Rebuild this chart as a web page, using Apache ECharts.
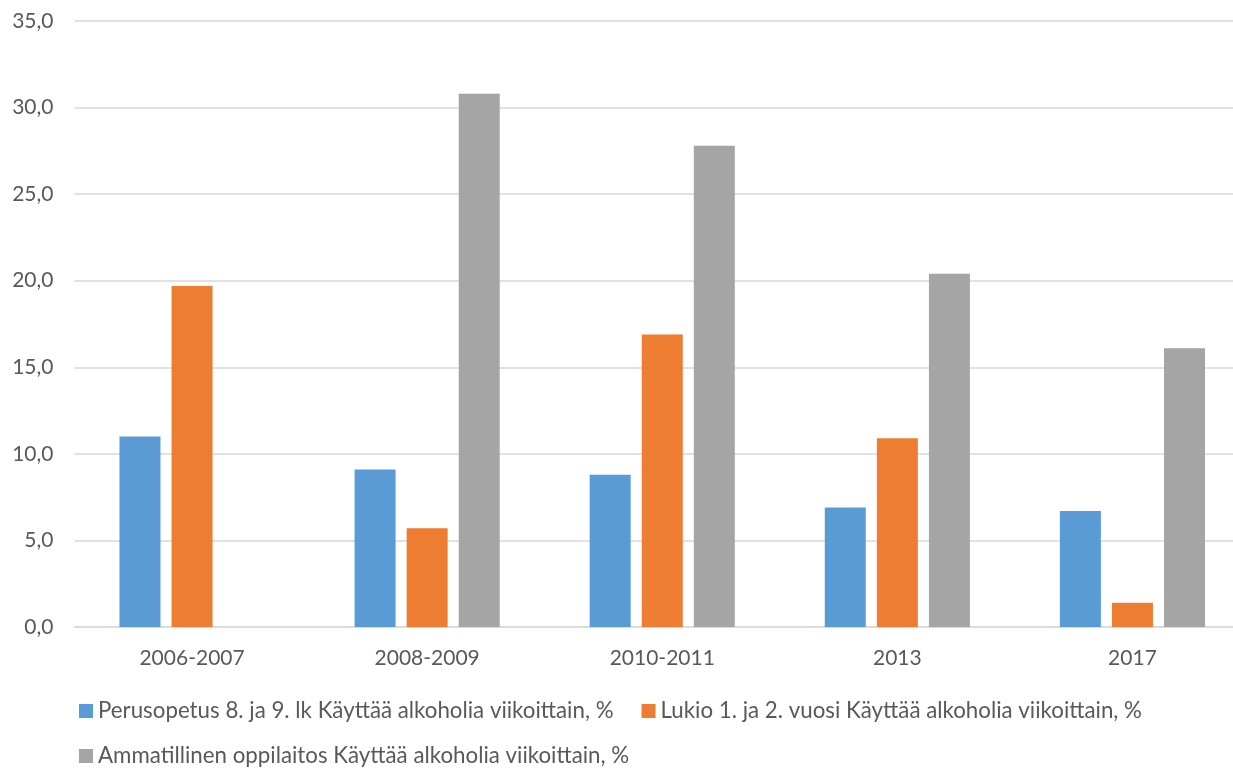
<!DOCTYPE html>
<html><head><meta charset="utf-8">
<script src="https://cdn.jsdelivr.net/npm/echarts@6/dist/echarts.min.js"></script>
<style>html,body{margin:0;padding:0;background:#fff;overflow:hidden;width:1233px;height:769px}#c{width:1250px;height:769px}</style>
</head><body><div id="c"></div>
<script>
const categories = ['2006-2007', '2008-2009', '2010-2011', '2013', '2017'];
const seriesNames = [
  'Perusopetus 8. ja 9. lk Käyttää alkoholia viikoittain, %',
  'Lukio 1. ja 2. vuosi Käyttää alkoholia viikoittain, %',
  'Ammatillinen oppilaitos Käyttää alkoholia viikoittain, %'
];
const perusopetus = [11.0, 9.1, 8.8, 6.9, 6.7];
const lukio = [19.7, 5.7, 16.9, 10.9, 1.4];
const ammatillinen = [null, 30.8, 27.8, 20.4, 16.1];
const colors = ['#5B9BD5', '#ED7D31', '#A5A5A5'];
const values = [perusopetus, lukio, ammatillinen];

const font = 'Lato, "Open Sans", sans-serif';
const chart = echarts.init(document.getElementById('c'));
const legendText = { fontSize: 22.3, lineHeight: 22, color: '#595959', fontFamily: font };
chart.setOption({
  animation: false,
  color: colors,
  textStyle: { fontFamily: font },
  grid: { left: 74.5, right: 0, top: 21, bottom: 142, containLabel: false },
  legend: [
    { data: [seriesNames[0], seriesNames[1]], left: 79, top: 700, orient: 'horizontal',
      icon: 'rect', itemWidth: 14, itemHeight: 14, itemGap: 28, padding: 0,
      textStyle: legendText },
    { data: [seriesNames[2]], left: 79, top: 745, orient: 'horizontal',
      icon: 'rect', itemWidth: 14, itemHeight: 14, padding: 0,
      textStyle: legendText }
  ],
  xAxis: {
    type: 'category', data: categories,
    axisLine: { show: true, lineStyle: { color: '#D9D9D9', width: 1.5 } },
    axisTick: { show: false },
    axisLabel: { color: '#595959', fontSize: 21, margin: 21, fontFamily: font }
  },
  yAxis: {
    type: 'value', min: 0, max: 35, interval: 5,
    axisLine: { show: false }, axisTick: { show: false },
    splitLine: { lineStyle: { color: '#D9D9D9', width: 1.5 } },
    axisLabel: { color: '#595959', fontSize: 21, margin: 21, fontFamily: font,
      formatter: v => v.toFixed(1).replace('.', ',') }
  },
  series: values.map((d, i) => ({
    name: seriesNames[i], type: 'bar', data: d,
    barWidth: 41, barGap: '27%',
    itemStyle: { color: colors[i] }
  }))
});
</script></body></html>
